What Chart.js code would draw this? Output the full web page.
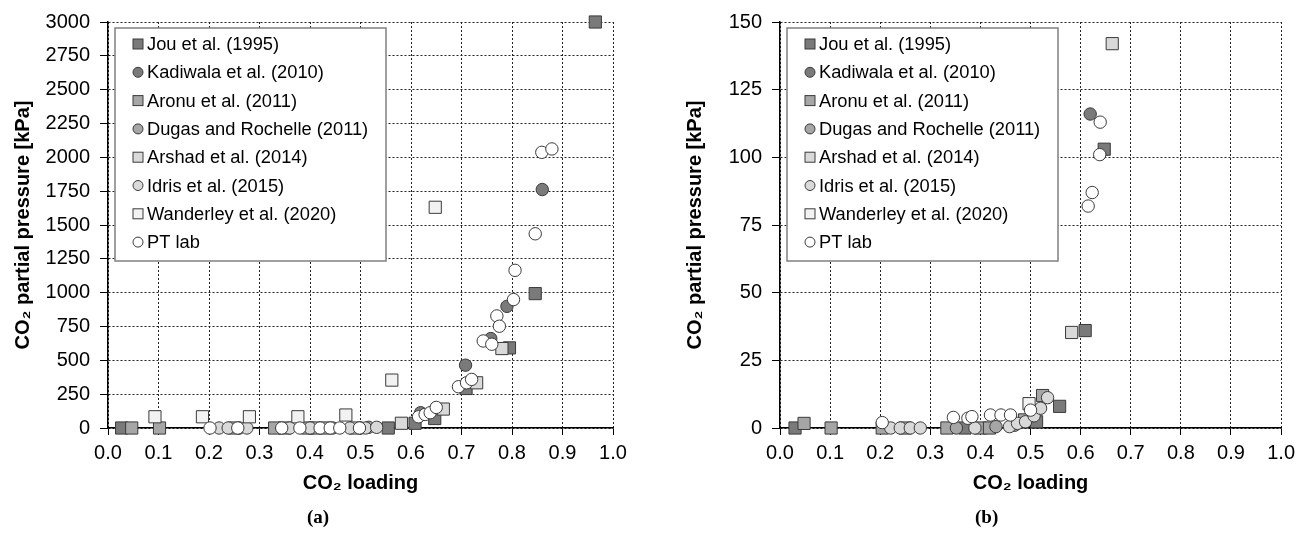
<!DOCTYPE html>
<html><head><meta charset="utf-8">
<script src="https://cdn.jsdelivr.net/npm/chart.js@4.4.1/dist/chart.umd.min.js"></script>
<style>
html,body{margin:0;padding:0;background:#fff;width:1301px;height:535px;overflow:hidden;}
#wa{position:absolute;left:0;top:0;width:650px;height:535px;}
#wb{position:absolute;left:650px;top:0;width:651px;height:535px;}
.cap{position:absolute;top:505px;font:bold 19px "Liberation Serif","DejaVu Serif",serif;color:#000;line-height:24px;}
</style></head><body>
<div id="wa"><canvas id="ca" width="650" height="535"></canvas></div>
<div id="wb"><canvas id="cb" width="651" height="535"></canvas></div>
<div class="cap" style="left:307px">(a)</div>
<div class="cap" style="left:975px">(b)</div>
<script>
// ---------- data ----------
const seriesNames = ['Jou et al. (1995)','Kadiwala et al. (2010)','Aronu et al. (2011)','Dugas and Rochelle (2011)','Arshad et al. (2014)','Idris et al. (2015)','Wanderley et al. (2020)','PT lab'];
const xTicks = [0,0.1,0.2,0.3,0.4,0.5,0.6,0.7,0.8,0.9,1.0];
const yTicksA = [0,250,500,750,1000,1250,1500,1750,2000,2250,2500,2750,3000];
const yTicksB = [0,25,50,75,100,125,150];

// panel (a): [CO2 loading, CO2 partial pressure kPa]
const jouA = [[0.027,0],[0.555,0],[0.608,35],[0.647,70],[0.709,292],[0.795,592],[0.846,993],[0.965,3000]];
const kadiwalaA = [[0.619,113],[0.708,464],[0.758,661],[0.79,899],[0.86,1762]];
const aronuA = [[0.047,0],[0.102,0],[0.25,0],[0.33,0],[0.35,0],[0.395,0],[0.41,0],[0.43,0]];
const dugasA = [[0.26,0],[0.445,0],[0.5,0],[0.516,5]];
const arshadA = [[0.49,0],[0.581,35],[0.664,140],[0.73,334],[0.78,587]];
const idrisA = [[0.22,0],[0.238,0],[0.275,0],[0.36,0],[0.40,0],[0.479,0],[0.51,0],[0.532,5]];
const wanderleyA = [[0.093,83],[0.187,83],[0.28,83],[0.376,83],[0.471,96],[0.562,354],[0.648,1631]];
const ptlabA = [[0.202,0],[0.257,0],[0.344,0],[0.38,0],[0.42,0],[0.44,0],[0.459,0],[0.498,0],[0.615,83],[0.628,100],[0.638,113],[0.65,152],[0.694,305],[0.71,334],[0.72,359],[0.743,643],[0.76,619],[0.77,828],[0.775,752],[0.803,949],[0.806,1165],[0.846,1435],[0.859,2037],[0.879,2062]];

// panel (b)
const jouB = [[0.03,0],[0.369,0],[0.512,2.3],[0.558,8],[0.609,36],[0.647,103]];
const kadiwalaB = [[0.619,116]];
const aronuB = [[0.048,1.7],[0.102,0],[0.204,0],[0.25,0],[0.333,0],[0.40,0],[0.418,0],[0.488,3],[0.524,12]];
const dugasB = [[0.352,0],[0.431,0.5],[0.468,1]];
const arshadB = [[0.582,35.3],[0.663,142]];
const idrisB = [[0.221,0],[0.24,0],[0.26,0],[0.28,0],[0.389,0],[0.458,0.5],[0.474,1.7],[0.49,2.3],[0.507,4.5],[0.52,7.3],[0.534,11.2]];
const wanderleyB = [[0.497,9]];
const ptlabB = [[0.204,2],[0.346,3.9],[0.375,3.6],[0.383,4.2],[0.42,4.8],[0.441,4.8],[0.46,4.8],[0.5,6.6],[0.615,82],[0.623,87],[0.638,101],[0.639,113]];

// ---------- styles ----------
const seriesFill = ['#7a7a7a','#7a7a7a','#a6a6a6','#a6a6a6','#d9d9d9','#d9d9d9','#f2f2f2','#ffffff'];
const seriesShape = ['rect','circle','rect','circle','rect','circle','rect','circle'];
const FONT = '"Liberation Sans", Arial, sans-serif';

function makeDatasets(list){
  return list.map((pts,i)=>({
    label: seriesNames[i],
    data: pts.map(p=>({x:p[0],y:p[1]})),
    pointStyle: seriesShape[i],
    pointRadius: seriesShape[i]==='rect' ? 8.6 : 6.2,
    pointHoverRadius: seriesShape[i]==='rect' ? 8.6 : 6.2,
    backgroundColor: seriesFill[i],
    borderColor: '#3a3a3a',
    borderWidth: 1,
    showLine: false,
    clip: false,
    order: list.length - 1 - i
  }));
}

const boxLegend = {
  id:'boxLegend',
  afterDatasetsDraw(chart){
    const ctx = chart.ctx, a = chart.chartArea;
    const L = a.left + 7, T = a.top + 6, W = 271, H = 233;
    ctx.save();
    ctx.fillStyle = '#fff'; ctx.fillRect(L,T,W,H);
    ctx.strokeStyle = '#808080'; ctx.lineWidth = 1.5; ctx.strokeRect(L,T,W,H);
    chart.data.datasets.forEach((ds,i)=>{
      const cy = T + 16 + i*28.3, cx = L + 23;
      ctx.fillStyle = ds.backgroundColor; ctx.strokeStyle = ds.borderColor; ctx.lineWidth = 1;
      if (ds.pointStyle === 'rect'){ ctx.fillRect(cx-5,cy-5,10,10); ctx.strokeRect(cx-5,cy-5,10,10); }
      else { ctx.beginPath(); ctx.arc(cx,cy,5,0,2*Math.PI); ctx.fill(); ctx.stroke(); }
      ctx.fillStyle = '#000'; ctx.font = '18.3px ' + FONT; ctx.textBaseline = 'middle'; ctx.textAlign = 'left';
      ctx.fillText(ds.label, L + 32, cy + 1);
    });
    ctx.restore();
  }
};

function makeChart(id, datasets, yTicks, yAxisWidth, padRight, yTitlePad){
  const ymax = yTicks[yTicks.length-1];
  return new Chart(document.getElementById(id), {
    type:'scatter',
    data:{datasets},
    plugins:[boxLegend],
    options:{
      responsive:false, animation:false, devicePixelRatio:1,
      layout:{padding:{left:0,right:padRight,top:21,bottom:0}},
      plugins:{legend:{display:false}, tooltip:{enabled:false}},
      scales:{
        x:{type:'linear', min:0, max:1,
          afterBuildTicks: s => { s.ticks = xTicks.map(v=>({value:v})); },
          ticks:{callback:v=>Number(v).toFixed(1), font:{family:FONT,size:20}, color:'#000', padding:6, maxRotation:0, autoSkip:false},
          grid:{color:'#222', lineWidth:1, tickLength:7, tickColor:'#000', drawTicks:true},
          border:{display:true, color:'#000', width:1.5, dash:[2,2]},
          title:{display:true, text:'CO₂ loading', font:{family:FONT,size:20,weight:'bold'}, color:'#000', padding:{top:0,bottom:40}},
          afterFit: s => { s.height = 107; }
        },
        y:{type:'linear', min:0, max:ymax,
          afterBuildTicks: s => { s.ticks = yTicks.map(v=>({value:v})); },
          ticks:{callback:v=>String(v), font:{family:FONT,size:20}, color:'#000', padding:10, autoSkip:false},
          grid:{color:'#222', lineWidth:1, tickLength:8, tickColor:'#000', drawTicks:true},
          border:{display:true, color:'#000', width:1.5, dash:[2,2]},
          title:{display:true, text:'CO₂ partial pressure [kPa]', font:{family:FONT,size:20,weight:'bold'}, color:'#000', padding:{top:yTitlePad,bottom:0}},
          afterFit: s => { s.width = yAxisWidth; }
        }
      }
    }
  });
}

makeChart('ca', makeDatasets([jouA,kadiwalaA,aronuA,dugasA,arshadA,idrisA,wanderleyA,ptlabA]), yTicksA, 108, 37, 11);
makeChart('cb', makeDatasets([jouB,kadiwalaB,aronuB,dugasB,arshadB,idrisB,wanderleyB,ptlabB]), yTicksB, 130, 15, 33);
</script>
</body></html>
